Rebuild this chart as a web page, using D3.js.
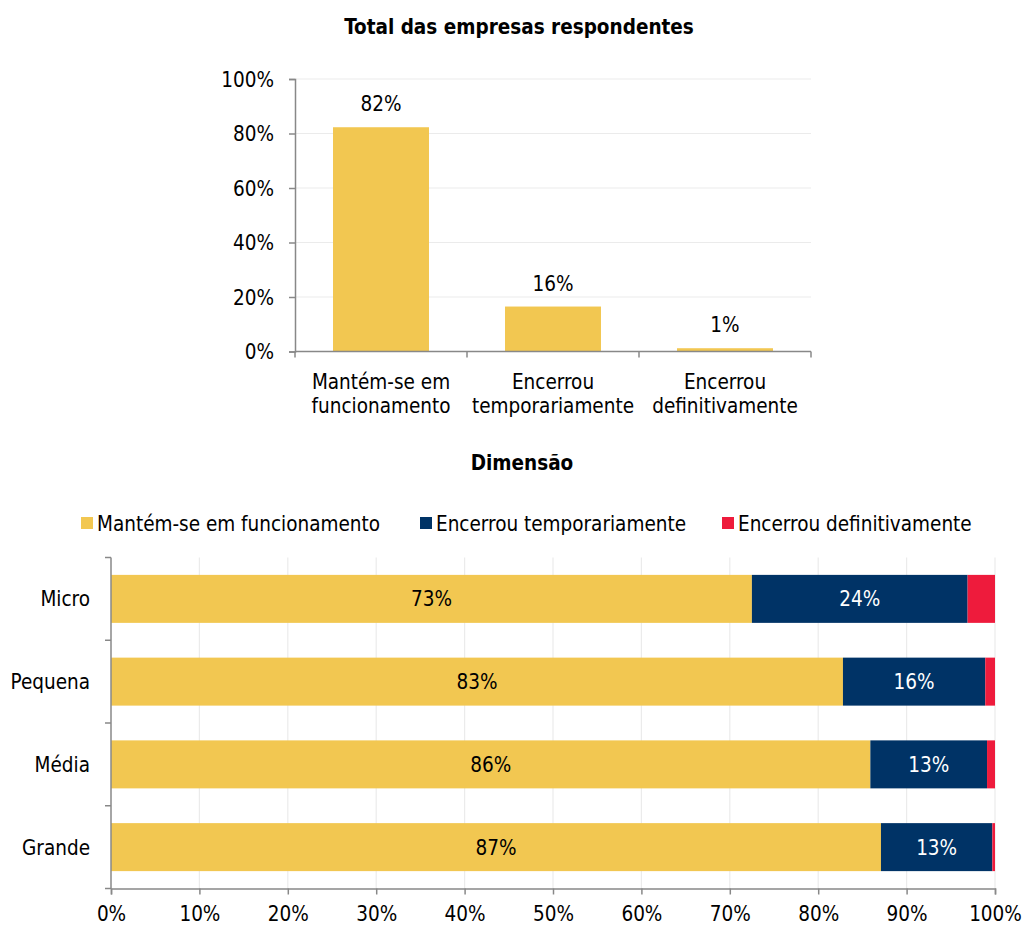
<!DOCTYPE html>
<html><head><meta charset="utf-8">
<script src="https://cdn.jsdelivr.net/npm/d3@7"></script>
<style>
body{margin:0;background:#fff;}
svg text{font-family:"DejaVu Sans Condensed","DejaVu Sans",sans-serif;fill:#000;}
</style></head>
<body>
<svg id="c" width="1023" height="926"></svg>
<script>
// ---- data ----
const topCategories = [["Mantém-se em","funcionamento"],["Encerrou","temporariamente"],["Encerrou","definitivamente"]];
const topValues = [82.3, 16.5, 1.2];
const topLabels = ["82%","16%","1%"];
const yTicks = [0,20,40,60,80,100];

const sizes = ["Micro","Pequena","Média","Grande"];
const seriesNames = ["Mantém-se em funcionamento","Encerrou temporariamente","Encerrou definitivamente"];
const mantem = [72.5, 82.8, 85.9, 87.1];
const temporario = [24.4, 16.1, 13.2, 12.6];
const definitivo = [3.1, 1.1, 0.9, 0.3];
const mantemLabels = ["73%","83%","86%","87%"];
const temporarioLabels = ["24%","16%","13%","13%"];
const xTicks = [0,10,20,30,40,50,60,70,80,90,100];

const colors = ["#F2C751","#003366","#EE1B3C"];
const FS = "20.5px";
const svg = d3.select("#c");

// ---- top chart ----
const T = {l:295, r:811, t:79, b:351.5};
const x1 = d3.scaleBand().domain(d3.range(topValues.length)).range([T.l,T.r]).paddingInner(0.442).paddingOuter(0.221);
const y1 = d3.scaleLinear().domain([0,100]).range([T.b,T.t]);

svg.append("text").attr("x",519).attr("y",34).attr("text-anchor","middle")
  .style("font-weight","bold").style("font-size",FS).text("Total das empresas respondentes");

const g1 = svg.append("g");
g1.selectAll("line.grid").data(yTicks.filter(d=>d>0)).join("line")
  .attr("x1",T.l).attr("x2",T.r).attr("y1",d=>y1(d)).attr("y2",d=>y1(d))
  .attr("stroke","#ebebeb").attr("stroke-width",1.2);

g1.selectAll("rect").data(topValues).join("rect")
  .attr("x",(d,i)=>x1(i)).attr("width",x1.bandwidth())
  .attr("y",d=>y1(d)).attr("height",d=>T.b-y1(d)).attr("fill",colors[0]);

g1.selectAll("text.val").data(topValues).join("text").attr("class","val")
  .attr("x",(d,i)=>x1(i)+x1.bandwidth()/2).attr("y",d=>y1(d)-16)
  .attr("text-anchor","middle").style("font-size",FS).text((d,i)=>topLabels[i]);

const yAxis1 = d3.axisLeft(y1).tickValues(yTicks).tickFormat(d=>d+"%").tickSize(6).tickPadding(15);
const ya = g1.append("g").attr("transform",`translate(${T.l},0)`).call(yAxis1);
ya.select(".domain").attr("stroke","#888").attr("stroke-width",1.5);
ya.selectAll(".tick line").attr("stroke","#888").attr("stroke-width",1.5);
ya.selectAll("text").style("font-size",FS).attr("dy","0.35em");

// x axis top
const xa = g1.append("g").attr("transform",`translate(0,${T.b})`);
xa.append("line").attr("x1",T.l).attr("x2",T.r).attr("y1",0).attr("y2",0).attr("stroke","#888").attr("stroke-width",1.5);
const edges = d3.range(topValues.length+1).map(i=>T.l + i*(T.r-T.l)/topValues.length);
xa.selectAll("line.tk").data(edges).join("line").attr("class","tk")
  .attr("x1",d=>d).attr("x2",d=>d).attr("y1",0).attr("y2",6).attr("stroke","#888").attr("stroke-width",1.5);
xa.selectAll("text").data(topCategories).join("text")
  .attr("x",(d,i)=>x1(i)+x1.bandwidth()/2).attr("text-anchor","middle").style("font-size",FS)
  .each(function(d){
    const t=d3.select(this);
    d.forEach((line,j)=>t.append("tspan").attr("x",t.attr("x")).attr("y",j===0?37:61).text(line));
  });

// ---- bottom chart ----
const B = {l:111, r:995, t:557.5, b:888.5};
const x2 = d3.scaleLinear().domain([0,100]).range([B.l,B.r]);
const y2 = d3.scaleBand().domain(sizes).range([B.t,B.b]).paddingInner(0.42).paddingOuter(0.21);

svg.append("text").attr("x",522).attr("y",470).attr("text-anchor","middle")
  .style("font-weight","bold").style("font-size",FS).text("Dimensão");

// legend
const legX = [81,420,722];
const lg = svg.append("g");
seriesNames.forEach((n,i)=>{
  lg.append("rect").attr("x",legX[i]).attr("y",517).attr("width",12).attr("height",12).attr("fill",colors[i]);
  lg.append("text").attr("x",legX[i]+16).attr("y",531).style("font-size",FS).text(n);
});

const g2 = svg.append("g");
g2.selectAll("line.grid").data(xTicks.filter(d=>d>0)).join("line")
  .attr("x1",d=>x2(d)).attr("x2",d=>x2(d)).attr("y1",B.t).attr("y2",B.b)
  .attr("stroke","#ebebeb").attr("stroke-width",1.2);

const rows = sizes.map((s,i)=>({s, vals:[mantem[i],temporario[i],definitivo[i]]}));
const stackData = rows.map(r=>{let acc=0;return r.vals.map((v,k)=>{const o={s:r.s,k,x0:acc,x1:acc+v};acc+=v;return o;});}).flat();

g2.selectAll("rect").data(stackData).join("rect")
  .attr("x",d=>x2(d.x0)).attr("width",d=>x2(d.x1)-x2(d.x0))
  .attr("y",d=>y2(d.s)).attr("height",y2.bandwidth()).attr("fill",d=>colors[d.k]);

g2.selectAll("text.lab").data(stackData.filter(d=>d.k<2)).join("text").attr("class","lab")
  .attr("x",d=>(x2(d.x0)+x2(d.x1))/2).attr("y",d=>y2(d.s)+y2.bandwidth()/2).attr("dy","0.36em")
  .attr("text-anchor","middle").style("font-size",FS)
  .style("fill",d=>d.k===1?"#fff":"#000")
  .text(d=>{const i=sizes.indexOf(d.s);return d.k===0?mantemLabels[i]:temporarioLabels[i];});

// y axis bottom
const ya2 = g2.append("g");
ya2.append("line").attr("x1",B.l).attr("x2",B.l).attr("y1",B.t).attr("y2",B.b).attr("stroke","#888").attr("stroke-width",1.5);
const yEdges = d3.range(sizes.length+1).map(i=>B.t + i*(B.b-B.t)/sizes.length);
ya2.selectAll("line.tk").data(yEdges).join("line").attr("class","tk")
  .attr("x1",B.l-6).attr("x2",B.l).attr("y1",d=>d).attr("y2",d=>d).attr("stroke","#888").attr("stroke-width",1.5);
ya2.selectAll("text").data(sizes).join("text")
  .attr("x",90).attr("y",d=>y2(d)+y2.bandwidth()/2).attr("dy","0.36em").attr("text-anchor","end")
  .style("font-size",FS).text(d=>d);

const xAxis2 = d3.axisBottom(x2).tickValues(xTicks).tickFormat(d=>d+"%").tickSize(6).tickPadding(12);
const xa2 = g2.append("g").attr("transform",`translate(0,${B.b})`).call(xAxis2);
xa2.select(".domain").attr("stroke","#888").attr("stroke-width",1.5);
xa2.selectAll(".tick line").attr("stroke","#888").attr("stroke-width",1.5);
xa2.selectAll("text").style("font-size",FS);
</script>
</body></html>
